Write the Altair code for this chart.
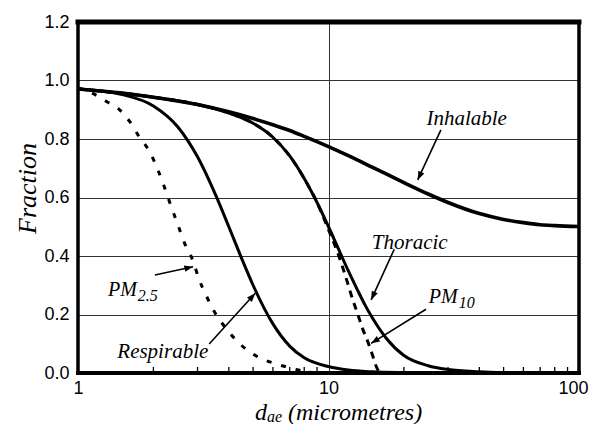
import math
import altair as alt
import pandas as pd

W, H = 501, 351

# ---- curve data: aerodynamic diameter (micrometres) vs collected fraction ----
inh_d = [1, 1.5, 2, 3, 4, 5, 6, 7, 8, 10, 12, 15, 20, 25, 30, 40, 50, 60, 70, 80, 100]
inh_f = [0.971, 0.957, 0.943, 0.918, 0.893, 0.870, 0.849, 0.829, 0.809, 0.774, 0.743,
         0.703, 0.651, 0.612, 0.583, 0.545, 0.525, 0.514, 0.507, 0.504, 0.501]

tho_d = [1, 2, 3, 4, 5, 6, 7, 8, 9, 10, 11, 12, 13, 14, 15, 17, 20, 25, 30, 40, 50, 60]
tho_f = [0.971, 0.943, 0.918, 0.889, 0.854, 0.806, 0.742, 0.665, 0.583, 0.500, 0.421,
         0.349, 0.287, 0.232, 0.187, 0.119, 0.060, 0.025, 0.012, 0.004, 0.001, 0.0]

res_d = [1, 1.5, 2, 2.5, 3, 3.5, 4, 4.5, 5, 6, 7, 8, 10, 12, 15, 20, 25]
res_f = [0.971, 0.952, 0.913, 0.842, 0.739, 0.619, 0.500, 0.392, 0.300, 0.168, 0.092,
         0.052, 0.022, 0.010, 0.004, 0.001, 0.0]

pm10_d = [1, 2, 3, 4, 5, 6, 7, 8, 9, 10, 11, 11.8, 12.5, 13.1, 13.7, 14.35, 15, 15.5, 16]
pm10_f = [0.971, 0.943, 0.918, 0.889, 0.854, 0.806, 0.742, 0.665, 0.583, 0.49, 0.40,
          0.32, 0.25, 0.20, 0.15, 0.107, 0.06, 0.023, 0.0]

pm25_d = [1, 1.15, 1.3, 1.47, 1.61, 1.76, 1.93, 2.08, 2.21, 2.35, 2.5, 2.66, 2.87, 3.05,
          3.24, 3.5, 3.9, 4.34, 4.83, 5.37, 6.08, 6.91, 7.6, 8.5]
pm25_f = [0.975, 0.955, 0.928, 0.899, 0.859, 0.806, 0.757, 0.696, 0.637, 0.571, 0.509,
          0.445, 0.386, 0.318, 0.267, 0.21, 0.152, 0.107, 0.073, 0.05, 0.033, 0.019,
          0.01, 0.004]

# axis ticks and domain
x_dom = [1, 100]
y_dom = [0, 1.2]
x_labels = [1, 10, 100]
y_ticks = [0.0, 0.2, 0.4, 0.6, 0.8, 1.0, 1.2]
minor_ticks = [2, 3, 4, 5, 6, 7, 8, 9, 20, 30, 40, 50, 60, 70, 80, 90]

# annotations (data coordinates)
lab_text = ["Inhalable", "Thoracic", "Respirable"]
lab_d = [35.6, 21.1, 2.18]
lab_f = [0.848, 0.423, 0.050]

pm_main = ["PM", "PM"]
pm_sub = ["2.5", "10"]
pm_d = [1.718, 32.8]
pm_f = [0.263, 0.238]

arr_d1 = [28.1, 18.3, 24.5, 2.027, 3.34]
arr_f1 = [0.831, 0.423, 0.218, 0.335, 0.099]
arr_d2 = [22.7, 14.8, 14.8, 2.88, 5.1]
arr_f2 = [0.660, 0.250, 0.1015, 0.363, 0.2725]

# ---- tables ----
def curve(name, ds, fs):
    return pd.DataFrame({"d": ds, "f": fs, "curve": name})

inh_df = curve("Inhalable", inh_d, inh_f)
solid_df = pd.concat([curve("Thoracic", tho_d, tho_f),
                      curve("Respirable", res_d, res_f)])
pm10_df = curve("PM10", pm10_d, pm10_f)
pm25_df = curve("PM2.5", pm25_d, pm25_f)


def px(d):
    return W * math.log10(d) / 2.0


def py(f):
    return H * (1 - f / 1.2)


angles = []
for a, b, c, e in zip(arr_d1, arr_f1, arr_d2, arr_f2):
    dx = px(c) - px(a)
    dy = py(e) - py(b)
    angles.append(math.degrees(math.atan2(dx, -dy)) % 360)

arrow_df = pd.DataFrame({"d1": arr_d1, "f1": arr_f1, "d2": arr_d2, "f2": arr_f2, "ang": angles})
lab_df = pd.DataFrame({"t": lab_text, "d": lab_d, "f": lab_f})
pm_df = pd.DataFrame({"t": pm_main, "s": pm_sub, "d": pm_d, "f": pm_f})
tick_df = pd.DataFrame({"d": minor_ticks})

# frame edges of the plot domain, each as a two-point line
frame_df = pd.DataFrame({
    "edge": ["top", "top", "bottom", "bottom", "left", "left", "right", "right"],
    "x": [x_dom[0], x_dom[1], x_dom[0], x_dom[1], x_dom[0], x_dom[0], x_dom[1], x_dom[1]],
    "y": [y_dom[1], y_dom[1], y_dom[0], y_dom[0], y_dom[0], y_dom[1], y_dom[0], y_dom[1]],
    "w": [5, 5, 4, 4, 3.5, 3.5, 3.5, 3.5],
    "o": [0, 1, 0, 1, 0, 1, 0, 1],
})

xs = alt.Scale(type="log", domain=x_dom, nice=False)
ys = alt.Scale(domain=y_dom, nice=False)

SERIF = "Liberation Serif"
SANS = "Liberation Sans"

x_axis = alt.Axis(values=x_labels, format="d", grid=True, gridColor="#333", gridWidth=1,
                  ticks=False, domain=False, labelFont=SANS, labelFontSize=18,
                  labelColor="black", labelPadding=6, labelFlush=False, labelOverlap=False,
                  labelBound=False, title=None,
                  labelOffset={"condition": {"test": "datum.value >= 100", "value": -6},
                               "value": 0})
y_axis = alt.Axis(values=y_ticks, format=".1f", grid=True, gridColor="#333", gridWidth=1,
                  ticks=False, domain=False, labelFont=SANS, labelFontSize=18,
                  labelColor="black", labelPadding=9, title="Fraction",
                  titleFont=SERIF, titleFontStyle="italic", titleFontWeight="normal",
                  titleFontSize=26, titleColor="black", titleAngle=270,
                  titleBaseline="alphabetic", titleAlign="center", titleX=-43, titleY=166)

inh = alt.Chart(inh_df).mark_line(color="black", strokeWidth=3.6, interpolate="monotone").encode(
    x=alt.X("d:Q", scale=xs, axis=x_axis),
    y=alt.Y("f:Q", scale=ys, axis=y_axis),
)

solid = alt.Chart(solid_df).mark_line(color="black", strokeWidth=3, interpolate="monotone").encode(
    x=alt.X("d:Q", scale=xs), y=alt.Y("f:Q", scale=ys), detail="curve:N")

pm10 = alt.Chart(pm10_df).mark_line(color="black", strokeWidth=3, strokeDash=[7, 6],
                                    interpolate="monotone").encode(
    x=alt.X("d:Q", scale=xs), y=alt.Y("f:Q", scale=ys))

pm25 = alt.Chart(pm25_df).mark_line(color="black", strokeWidth=3, strokeDash=[5, 10],
                                    interpolate="monotone").encode(
    x=alt.X("d:Q", scale=xs), y=alt.Y("f:Q", scale=ys))

minor = alt.Chart(tick_df).mark_rule(color="black", strokeWidth=1.3).encode(
    x=alt.X("d:Q", scale=xs), y=alt.value(H), y2=alt.value(H - 6))

arrows = alt.Chart(arrow_df).mark_rule(color="black", strokeWidth=1.6).encode(
    x=alt.X("d1:Q", scale=xs), y=alt.Y("f1:Q", scale=ys),
    x2="d2:Q", y2="f2:Q")

heads = alt.Chart(arrow_df).mark_point(
    shape="M0,0L0.38,1L-0.38,1Z", filled=True, size=300, color="black", opacity=1
).encode(
    x=alt.X("d2:Q", scale=xs), y=alt.Y("f2:Q", scale=ys),
    angle=alt.Angle("ang:Q", scale=None))

frame = alt.Chart(frame_df).mark_line(color="black", strokeCap="square").encode(
    x=alt.X("x:Q", scale=xs), y=alt.Y("y:Q", scale=ys),
    detail="edge:N", order="o:Q",
    strokeWidth=alt.StrokeWidth("w:Q", scale=None))

labels = alt.Chart(lab_df).mark_text(font=SERIF, fontStyle="italic", fontSize=21,
                                     align="center", baseline="alphabetic", color="black").encode(
    x=alt.X("d:Q", scale=xs), y=alt.Y("f:Q", scale=ys), text="t:N")

pm_lab = alt.Chart(pm_df).mark_text(font=SERIF, fontStyle="italic", fontSize=20,
                                    align="right", baseline="alphabetic", color="black").encode(
    x=alt.X("d:Q", scale=xs), y=alt.Y("f:Q", scale=ys), text="t:N")

pm_sub_lab = alt.Chart(pm_df).mark_text(font=SERIF, fontStyle="italic", fontSize=16,
                                        align="left", baseline="alphabetic", dx=1, dy=5,
                                        color="black").encode(
    x=alt.X("d:Q", scale=xs), y=alt.Y("f:Q", scale=ys), text="s:N")

xt_d = alt.Chart(pd.DataFrame({"t": ["d"]})).mark_text(
    font=SERIF, fontStyle="italic", fontSize=24, align="left", baseline="alphabetic",
    color="black").encode(x=alt.value(177), y=alt.value(398), text="t:N")
xt_sub = alt.Chart(pd.DataFrame({"t": ["ae"]})).mark_text(
    font=SERIF, fontStyle="italic", fontSize=16, align="left", baseline="alphabetic",
    color="black").encode(x=alt.value(189), y=alt.value(400), text="t:N")
xt_rest = alt.Chart(pd.DataFrame({"t": ["(micrometres)"]})).mark_text(
    font=SERIF, fontStyle="italic", fontSize=24, align="left", baseline="alphabetic",
    color="black").encode(x=alt.value(210), y=alt.value(398), text="t:N")

chart = alt.layer(
    inh, solid, pm10, pm25, minor, arrows, heads, frame, labels, pm_lab, pm_sub_lab,
    xt_d, xt_sub, xt_rest
).properties(
    width=W, height=H, autosize="none", background="white",
    padding={"left": 70, "top": 14, "right": 11, "bottom": 51},
).configure_view(stroke=None)

chart.save("out.html", embed_options={"renderer": "svg", "actions": False})
